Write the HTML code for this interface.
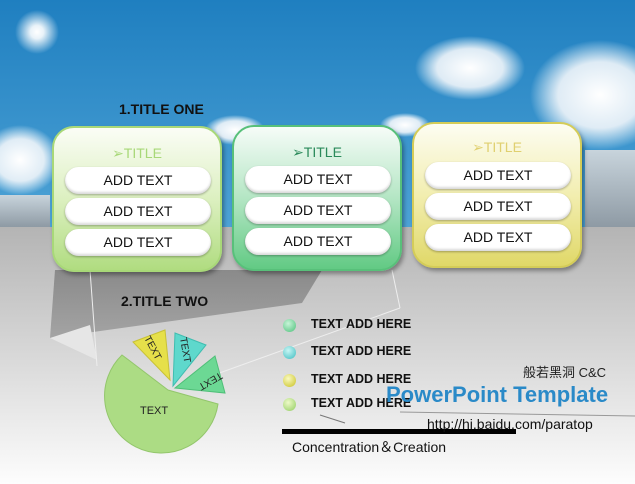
<!DOCTYPE html>
<html><head><meta charset="utf-8"><style>
body{margin:0;width:635px;height:484px;overflow:hidden;font-family:"Liberation Sans","Noto Sans CJK SC",sans-serif;}
.box{position:absolute;width:166px;height:142px;border-radius:22px;border:2px solid;box-shadow:2px 3px 4px rgba(0,0,0,.35);}
.t{position:absolute;left:0;right:0;top:17px;text-align:center;font-size:14px;}
.p{position:absolute;left:11px;width:146px;height:27px;border-radius:14px;background:#fff;box-shadow:inset 0 -2px 2px rgba(0,0,0,.15),0 1px 2px rgba(0,0,0,.3);text-align:center;line-height:27px;font-size:14px;color:#111;}
.h{position:absolute;font-weight:bold;font-size:14px;color:#111;}
.l{position:absolute;font-weight:bold;font-size:12.5px;color:#111;left:311px;}
.b{position:absolute;left:283px;width:13px;height:13px;border-radius:50%;}
</style></head><body>
<svg width="635" height="484" style="position:absolute;left:0;top:0">
<defs>
<linearGradient id="sky" x1="0" y1="0" x2="0" y2="1"><stop offset="0" stop-color="#1f7fc0"/><stop offset="1" stop-color="#4ea3d6"/></linearGradient>
<linearGradient id="gr" x1="0" y1="0" x2="0" y2="1"><stop offset="0" stop-color="#b4b4b4"/><stop offset=".5" stop-color="#d8d8d8"/><stop offset="1" stop-color="#fdfdfd"/></linearGradient>
<linearGradient id="fl" x1="0" y1="0" x2="0" y2="1"><stop offset="0" stop-color="#8a8a8a"/><stop offset="1" stop-color="#a4a4a4"/></linearGradient>
<radialGradient id="cl"><stop offset="0" stop-color="#fff"/><stop offset=".6" stop-color="#f2f6fa" stop-opacity=".9"/><stop offset="1" stop-color="#fff" stop-opacity="0"/></radialGradient>
<radialGradient id="sun"><stop offset="0" stop-color="#fff"/><stop offset=".3" stop-color="#fff" stop-opacity=".9"/><stop offset="1" stop-color="#fff" stop-opacity="0"/></radialGradient>
<linearGradient id="bld" x1="0" y1="0" x2="0" y2="1"><stop offset="0" stop-color="#c8d4dc"/><stop offset="1" stop-color="#8e9aa4"/></linearGradient>
</defs>
<rect width="635" height="228" fill="url(#sky)"/>
<rect y="227" width="635" height="257" fill="url(#gr)"/>
<circle cx="37" cy="32" r="22" fill="url(#sun)"/>
<ellipse cx="470" cy="68" rx="55" ry="32" fill="url(#cl)"/>
<ellipse cx="600" cy="95" rx="70" ry="55" fill="url(#cl)"/>
<ellipse cx="20" cy="160" rx="40" ry="35" fill="url(#cl)"/>
<ellipse cx="235" cy="130" rx="30" ry="15" fill="url(#cl)"/>
<ellipse cx="405" cy="125" rx="25" ry="12" fill="url(#cl)"/>
<rect x="0" y="195" width="50" height="32" fill="url(#bld)"/>
<rect x="585" y="150" width="50" height="77" fill="url(#bld)"/>
<polygon points="55,270 322,270 302,303 50,338" fill="url(#fl)"/>
<polygon points="50,338 90,325 97,360" fill="#e6e6e6"/>
<line x1="90" y1="270" x2="97" y2="366" stroke="#eee" stroke-width="1"/>
<line x1="392" y1="270" x2="400" y2="308" stroke="#eee"/>
<line x1="400" y1="308" x2="200" y2="380" stroke="#eee"/>
<line x1="320" y1="415" x2="345" y2="423" stroke="#777"/>
<line x1="400" y1="412" x2="635" y2="416" stroke="#999"/>
<rect x="282" y="429" width="234" height="5" fill="#000"/>
<path d="M168,390 L122,355 A57,57 0 1 0 218,404 Z" fill="#acdc84" stroke="#93c66c"/>
<path d="M170,380 L133,342 L165,330 Z" fill="#e6e04a" stroke="#c9c236"/>
<path d="M173,386 L175,333 L206,345 Z" fill="#5ed8cc" stroke="#3fbdb0"/>
<path d="M175,388 L215,356 L225,393 Z" fill="#6cd894" stroke="#4fbf78"/>
<text x="140" y="414" font-size="11" font-family="Liberation Sans" fill="#222">TEXT</text>
<text font-size="10" font-family="Liberation Sans" fill="#222" transform="translate(144,338) rotate(62)">TEXT</text>
<text font-size="10" font-family="Liberation Sans" fill="#222" transform="translate(180,338) rotate(80)">TEXT</text>
<text font-size="10" font-family="Liberation Sans" fill="#222" transform="translate(220,372) rotate(150)">TEXT</text>
</svg>
<div class="h" style="left:119px;top:101px">1.TITLE ONE</div>
<div class="h" style="left:121px;top:293px">2.TITLE TWO</div>
<div class="box" style="left:52px;top:126px;border-color:#a8d878;background:linear-gradient(#fbfdf6,#dcf0c0 50%,#b0dc80)">
<div class="t" style="color:#a8d878">➢TITLE</div>
<div class="p" style="top:39px">ADD TEXT</div><div class="p" style="top:70px">ADD TEXT</div><div class="p" style="top:101px">ADD TEXT</div></div>
<div class="box" style="left:232px;top:125px;border-color:#58c07a;background:linear-gradient(#f6fcf8,#b4e6c4 50%,#62ca84)">
<div class="t" style="color:#2a8a5a">➢TITLE</div>
<div class="p" style="top:39px">ADD TEXT</div><div class="p" style="top:70px">ADD TEXT</div><div class="p" style="top:101px">ADD TEXT</div></div>
<div class="box" style="left:412px;top:122px;border-color:#d4cc58;background:linear-gradient(#fdfdf2,#f2eeb0 50%,#e0d868)">
<div class="t" style="color:#e0d070;top:15px">➢TITLE</div>
<div class="p" style="top:38px">ADD TEXT</div><div class="p" style="top:69px">ADD TEXT</div><div class="p" style="top:100px">ADD TEXT</div></div>
<div class="b" style="top:319px;background:radial-gradient(circle at 40% 35%,#c8f4d8,#4cc07a)"></div>
<div class="b" style="top:346px;background:radial-gradient(circle at 40% 35%,#c8f6f4,#3cbcc0)"></div>
<div class="b" style="top:374px;background:radial-gradient(circle at 40% 35%,#fafac0,#c8c020)"></div>
<div class="b" style="top:398px;background:radial-gradient(circle at 40% 35%,#eefac8,#90cc60)"></div>
<div class="l" style="top:317px">TEXT ADD HERE</div>
<div class="l" style="top:344px">TEXT ADD HERE</div>
<div class="l" style="top:372px">TEXT ADD HERE</div>
<div class="l" style="top:396px">TEXT ADD HERE</div>
<div style="position:absolute;left:523px;top:362px;font-size:13px;color:#222">般若黑洞 C&amp;C</div>
<div style="position:absolute;left:386px;top:382px;font-size:22px;font-weight:bold;color:#2a8ac8">PowerPoint Template</div>
<div style="position:absolute;left:427px;top:416px;font-size:14px;color:#111">http://hi.baidu.com/paratop</div>
<div style="position:absolute;left:292px;top:437px;font-size:14px;color:#111">Concentration＆Creation</div>
</body></html>
